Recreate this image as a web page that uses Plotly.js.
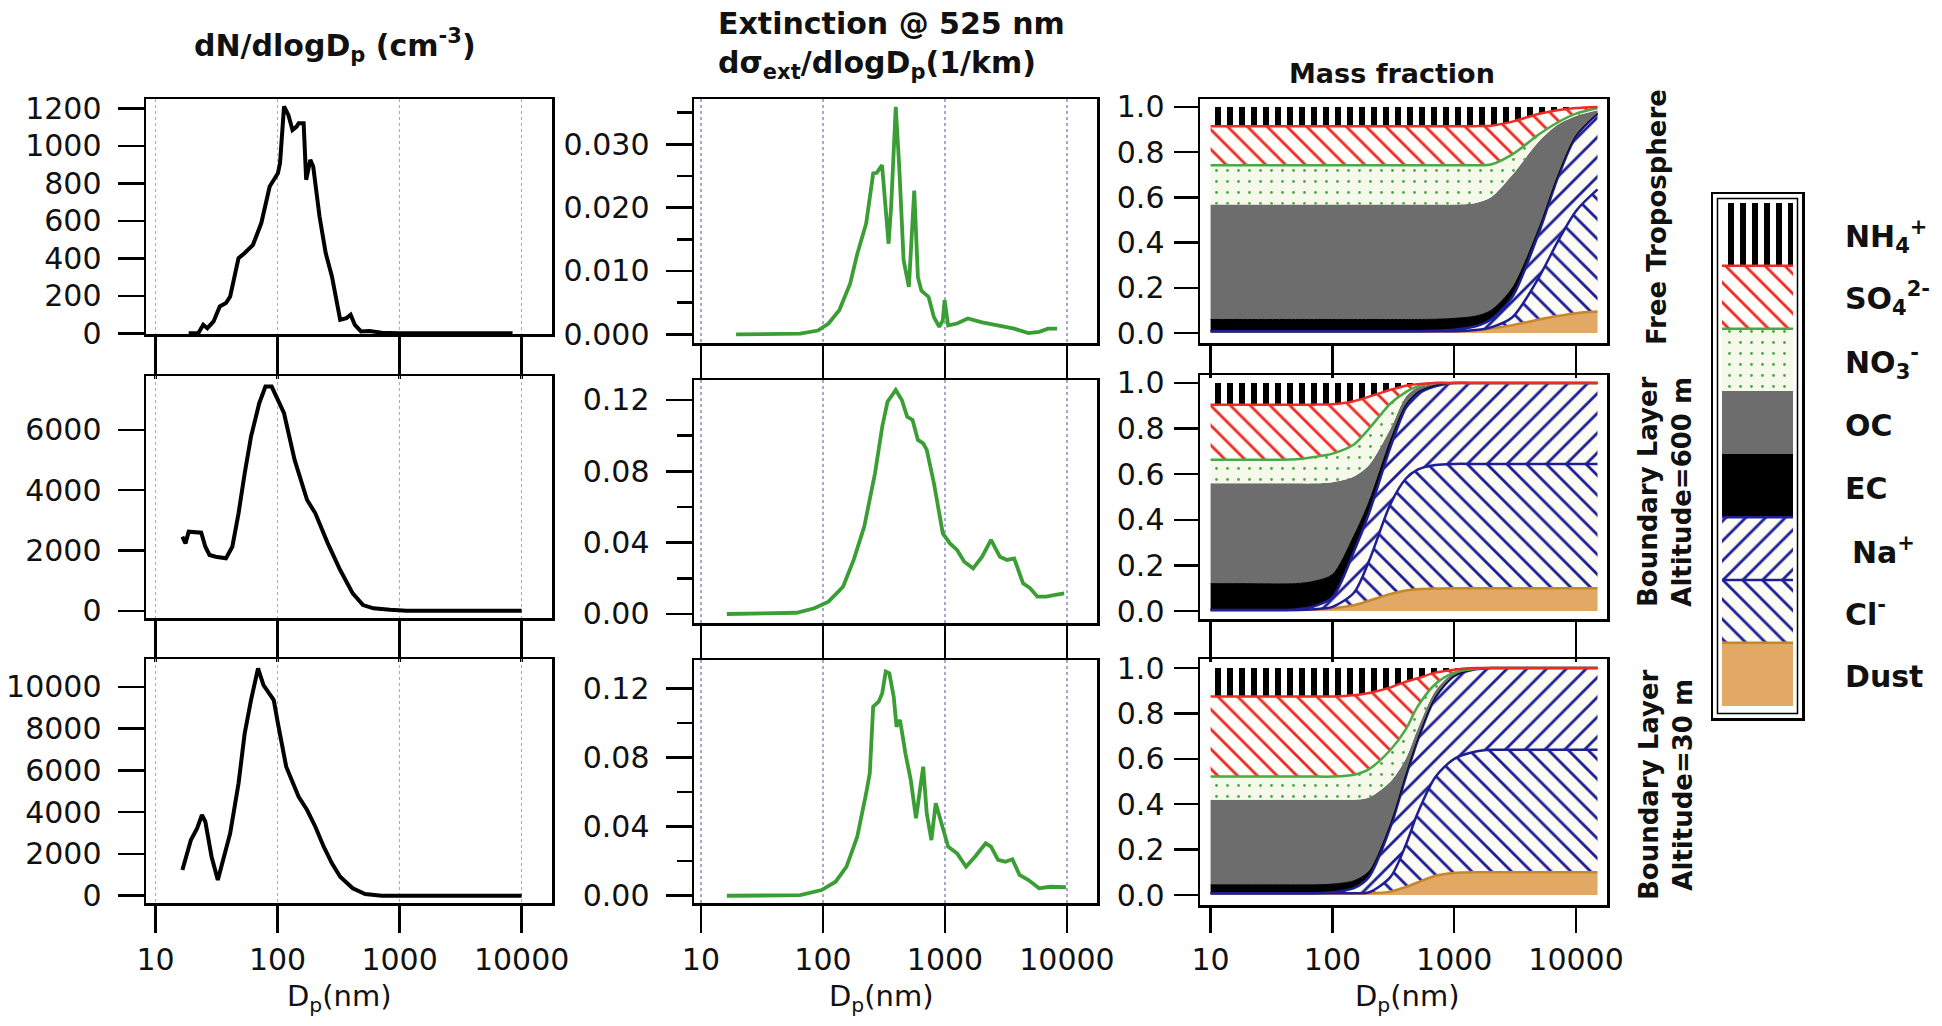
<!DOCTYPE html>
<html><head><meta charset="utf-8">
<script src="https://cdn.plot.ly/plotly-3.0.1.min.js"></script>
<style>html,body{margin:0;padding:0;background:#fff}#chart{width:1942px;height:1026px}</style>
</head><body><div id="chart"></div>
<script>
// ---------------- DATA ----------------
// Number size distributions dN/dlogDp (cm^-3)
const ft_dn_dp = [18.7,22.4,24.6,26.6,29.9,33.6,37.8,40.9,47.9,53.8,62.9,73.6,86.2,100.7,104.8,113,122.6,132.6,143.3,149,163.6,171.6,185.5,196,220.8,248,279,326,367,397,430,483,565,714,977,8430];
const ft_dn    = [0,0,45,27,63,143,161,196,401,428,472,588,783,854,908,1210,1165,1085,1103,1121,1121,819,925,890,623,428,303,72,81,99,45,10,12,3,0,0];
const bl600_dn_dp = [16.6,17.6,18.7,21.0,23.7,25.6,27.7,31.1,37.8,42.6,47.9,53.8,60.6,70.8,79.6,89.5,97,113,138,174.6,204,258,326,413,502,611,835,1143,10000];
const bl600_dn    = [2457,2237,2623,2623,2590,2125,1850,1793,1740,2125,3234,4562,5778,6887,7438,7438,7106,6555,5004,3676,3234,2237,1351,578,189,80,30,0,0];
const bl30_dn_dp = [16.6,19.5,21.9,24.0,25.6,28.8,32.4,36.4,40.9,47.9,53.8,60.6,69.2,76.7,86.2,93.1,100.7,117.8,127.3,149,174.6,204,239,279,326,413,522,714,10000];
const bl30_dn    = [1230,2665,3225,3861,3541,1866,751,1866,2986,5378,7770,9364,10880,10081,9603,9364,8249,6172,5694,4737,4100,3301,2344,1550,909,354,81,0,0];

// Extinction at 525 nm, dsigma_ext/dlogDp (1/km)
const ft_ext_dp = [19.4,65,91,111,136,167,191,226,258,276,305,327,345,362,395,422,458,506,560,600,641,734,812,898,960,993,1062,1256,1537,2015,2818,3690,4831,5910,6999,8285];
const ft_ext    = [0,0.0001,0.0006,0.0017,0.0038,0.008,0.0127,0.0175,0.0254,0.0255,0.0267,0.0201,0.0143,0.0201,0.0359,0.0264,0.0117,0.0075,0.0227,0.009,0.0069,0.0059,0.0027,0.0012,0.0022,0.0054,0.0014,0.0017,0.0025,0.0019,0.0014,0.0009,0.0002,0.0004,0.0009,0.0009];
const bl600_ext_dp = [16.3,60.7,85,111,146,178.5,218,267,306,338,395,443,490,542,600,663,709,812,960,1098,1257,1438,1702,2015,2383,2818,3227,3690,4365,5000,5716,6766,8011,9480];
const bl600_ext    = [0,0.0007,0.0032,0.0069,0.0153,0.0303,0.049,0.0789,0.105,0.119,0.1256,0.12,0.1106,0.1088,0.0976,0.0957,0.092,0.0733,0.0452,0.0396,0.0359,0.0293,0.0256,0.0321,0.0415,0.0321,0.0303,0.0312,0.0172,0.0144,0.0097,0.0097,0.0107,0.0116];
const bl30_ext_dp = [16.3,65,97.5,127,156,191,226,242,258,286,306,327,350,380,401,428,474,524,579,619,663,709,774,840,929,1062,1257,1488,1762,2155,2383,2723,3117,3570,4085,4831,5910,7244,9800];
const bl30_ext    = [0,0.0003,0.0033,0.0081,0.0168,0.0342,0.0593,0.0709,0.1094,0.1123,0.1172,0.1297,0.1287,0.1152,0.0978,0.1017,0.0824,0.067,0.0448,0.0593,0.0747,0.0477,0.0322,0.0535,0.0419,0.0284,0.0245,0.0168,0.0226,0.0303,0.0284,0.0207,0.0197,0.0211,0.012,0.0091,0.0043,0.0052,0.0049];

// Mass fraction: cumulative upper edge of each species (stacked from the bottom: Dust, Cl-, Na+, EC, OC, NO3-, SO4 2-, NH4+)
const mf_dp = [10,20,50,70,100,150,200,300,400,500,700,1000,1500,2000,3000,5000,7000,10000,15000];
const species = ['Dust','Cl','Na','EC','OC','NO3','SO4','NH4'];
const speciesLabels = ['Dust','Cl<sup>-</sup>','Na<sup>+</sup>','EC','OC','NO<sub>3</sub><sup>-</sup>','SO<sub>4</sub><sup>2-</sup>','NH<sub>4</sub><sup>+</sup>'];

const ft_Dust = [0.008,0.008,0.008,0.008,0.008,0.008,0.008,0.008,0.008,0.008,0.008,0.008,0.012,0.02,0.035,0.06,0.075,0.088,0.095];
const ft_Cl   = [0.008,0.008,0.008,0.008,0.008,0.008,0.008,0.008,0.008,0.008,0.008,0.008,0.013,0.025,0.07,0.25,0.4,0.54,0.635];
const ft_Na   = [0.008,0.008,0.008,0.008,0.008,0.008,0.008,0.008,0.008,0.008,0.01,0.015,0.03,0.06,0.16,0.45,0.68,0.87,0.97];
const ft_EC   = [0.06,0.06,0.06,0.06,0.06,0.06,0.06,0.06,0.06,0.06,0.061,0.065,0.075,0.1,0.2,0.47,0.69,0.875,0.972];
const ft_OC   = [0.568,0.568,0.568,0.568,0.568,0.568,0.568,0.568,0.568,0.568,0.568,0.568,0.575,0.6,0.7,0.85,0.92,0.96,0.985];
const ft_NO3  = [0.742,0.742,0.742,0.742,0.742,0.742,0.742,0.742,0.742,0.742,0.742,0.742,0.742,0.745,0.79,0.88,0.93,0.97,0.995];
const ft_SO4  = [0.915,0.915,0.915,0.915,0.915,0.915,0.915,0.915,0.915,0.915,0.915,0.915,0.915,0.917,0.935,0.97,0.985,0.995,1];
const ft_NH4  = [1,1,1,1,1,1,1,1,1,1,1,1,1,1,1,1,1,1,1];

const bl600_Dust = [0.005,0.005,0.005,0.007,0.012,0.025,0.045,0.075,0.09,0.096,0.099,0.1,0.1,0.1,0.1,0.1,0.1,0.1,0.1];
const bl600_Cl   = [0.005,0.005,0.005,0.008,0.018,0.08,0.22,0.47,0.58,0.62,0.64,0.645,0.645,0.645,0.645,0.645,0.645,0.645,0.645];
const bl600_Na   = [0.005,0.005,0.007,0.02,0.06,0.26,0.43,0.72,0.89,0.95,0.985,1,1,1,1,1,1,1,1];
const bl600_EC   = [0.12,0.12,0.12,0.13,0.16,0.33,0.48,0.75,0.905,0.96,0.99,1,1,1,1,1,1,1,1];
const bl600_OC   = [0.56,0.56,0.56,0.56,0.565,0.59,0.64,0.8,0.94,0.98,0.995,1,1,1,1,1,1,1,1];
const bl600_NO3  = [0.663,0.663,0.665,0.675,0.69,0.73,0.8,0.91,0.96,0.985,1,1,1,1,1,1,1,1,1];
const bl600_SO4  = [0.905,0.905,0.905,0.905,0.907,0.92,0.94,0.97,0.988,0.995,1,1,1,1,1,1,1,1,1];
const bl600_NH4  = [1,1,1,1,1,1,1,1,1,1,1,1,1,1,1,1,1,1,1];

const bl30_Dust = [0.008,0.008,0.008,0.008,0.008,0.008,0.008,0.015,0.035,0.055,0.085,0.097,0.1,0.1,0.1,0.1,0.1,0.1,0.1];
const bl30_Cl   = [0.008,0.008,0.008,0.008,0.008,0.008,0.012,0.08,0.22,0.36,0.52,0.6,0.632,0.64,0.64,0.64,0.64,0.64,0.64];
const bl30_Na   = [0.008,0.008,0.008,0.008,0.012,0.03,0.08,0.3,0.52,0.68,0.87,0.965,0.995,1,1,1,1,1,1];
const bl30_EC   = [0.045,0.045,0.045,0.045,0.048,0.063,0.105,0.315,0.53,0.686,0.873,0.966,0.995,1,1,1,1,1,1];
const bl30_OC   = [0.42,0.42,0.42,0.42,0.42,0.42,0.43,0.5,0.6,0.73,0.9,0.98,0.995,1,1,1,1,1,1];
const bl30_NO3  = [0.522,0.522,0.522,0.522,0.522,0.53,0.555,0.64,0.73,0.83,0.93,0.98,0.997,1,1,1,1,1,1];
const bl30_SO4  = [0.875,0.875,0.875,0.875,0.875,0.88,0.89,0.915,0.94,0.955,0.98,0.993,1,1,1,1,1,1,1];
const bl30_NH4  = [1,1,1,1,1,1,1,1,1,1,1,1,1,1,1,1,1,1,1];

const xTickVals = [10,100,1000,10000];
const xTickText = ['10','100','1000','10000'];
const rowLabels = ['Free Troposphere','Boundary Layer<br>Altitude=600 m','Boundary Layer<br>Altitude=30 m'];

// ---------------- STYLE / LAYOUT ----------------
const W = 1942, H = 1026;
const fx = p => p / W;
const fy = p => 1 - p / H;
const FONT = 'DejaVu Sans, Arial, sans-serif';
const NAVY = '#1e1e96', RED = '#ee2a24', GREEN = '#4aa845';

function hatch(shape, fg, bg, size, sol) {
  return {shape: shape, fgcolor: fg, bgcolor: bg, size: size, solidity: sol, fillmode: 'replace'};
}
const spStyle = {
  Dust: {fillcolor: '#e2a965', line: {color: '#c8862c', width: 2.5}},
  Cl:   {fillcolor: '#fdfcf4', fillpattern: hatch('\\', NAVY, '#fdfcf4', 14, 0.2), line: {color: NAVY, width: 2.5}},
  Na:   {fillcolor: '#fdfcf4', fillpattern: hatch('/', NAVY, '#fdfcf4', 14, 0.2), line: {color: NAVY, width: 2.5}},
  EC:   {fillcolor: '#000000', line: {color: '#000000', width: 1}},
  OC:   {fillcolor: '#6d6d6d', line: {color: '#6d6d6d', width: 0}},
  NO3:  {fillcolor: '#f5f9ea', fillpattern: hatch('.', '#4ea64a', '#f5f9ea', 11, 0.05), line: {color: GREEN, width: 2.5}},
  SO4:  {fillcolor: '#fffefa', fillpattern: hatch('\\', RED, '#fffefa', 14, 0.2), line: {color: RED, width: 2.5}},
  NH4:  {fillcolor: '#ffffff', fillpattern: hatch('|', '#000000', '#ffffff', 12, 0.5), line: {color: '#000000', width: 0}}
};

const cols = [
  {x: [146, 552], xr: [0.922, 4.249], rows: [[99, 334], [376, 618], [659, 903]], tl: [42, 41, 27], grid: true},
  {x: [694, 1097], xr: [0.943, 4.246], rows: [[99, 343], [380, 623], [660, 903]], tl: [37, 37, 27], grid: true},
  {x: [1200, 1607], xr: [0.913, 4.254], rows: [[99, 343], [375, 619], [659, 905]], tl: [32, 40, 25], grid: false}
];
const yCfg = [
  {range: [-4, 1250], dtick: 200, fmt: 'd', len: 26, sd: 10},
  {range: [-240, 7790], dtick: 2000, fmt: 'd', len: 26, sd: 10},
  {range: [-350, 11330], dtick: 2000, fmt: 'd', len: 26, sd: 10},
  {range: [-0.00137, 0.03715], dtick: 0.01, fmt: '.3f', len: 26, sd: 10, minor: 0.005},
  {range: [-0.00505, 0.1312], dtick: 0.04, fmt: '.2f', len: 26, sd: 10, minor: 0.02},
  {range: [-0.0042, 0.1364], dtick: 0.04, fmt: '.2f', len: 26, sd: 10, minor: 0.02},
  {range: [-0.044, 1.035], dtick: 0.2, fmt: '.1f', len: 24, sd: 3},
  {range: [-0.035, 1.035], dtick: 0.2, fmt: '.1f', len: 24, sd: 3},
  {range: [-0.044, 1.04], dtick: 0.2, fmt: '.1f', len: 24, sd: 3}
];

const layout = {
  width: W, height: H, margin: {l: 0, r: 0, t: 0, b: 0},
  paper_bgcolor: '#ffffff', plot_bgcolor: '#ffffff', showlegend: false,
  barmode: 'stack',
  font: {family: FONT, size: 30, color: '#111'},
  annotations: [], shapes: []
};

for (let c = 0; c < 3; c++) {
  const col = cols[c];
  for (let r = 0; r < 3; r++) {
    const k = c * 3 + r + 1;
    const xs = k === 1 ? 'xaxis' : 'xaxis' + k;
    const ys = k === 1 ? 'yaxis' : 'yaxis' + k;
    const yc = yCfg[k - 1];
    layout[xs] = {
      domain: [fx(col.x[0]), fx(col.x[1])], anchor: k === 1 ? 'y' : 'y' + k,
      type: 'log', range: col.xr, tickvals: xTickVals, ticktext: xTickText,
      showticklabels: r === 2, ticks: 'outside', ticklen: col.tl[r], tickwidth: 2.5, tickcolor: '#000',
      ticklabelstandoff: 1,
      showline: true, mirror: true, linecolor: '#000', linewidth: 2.5,
      showgrid: col.grid, gridcolor: '#a3a8d4', griddash: 'dot', gridwidth: 1.5,
      zeroline: false, fixedrange: true,
      tickfont: {family: FONT, size: 30, color: '#111'}
    };
    layout[ys] = {
      domain: [fy(col.rows[r][1]), fy(col.rows[r][0])], anchor: k === 1 ? 'x' : 'x' + k,
      range: yc.range, tick0: 0, dtick: yc.dtick, tickformat: yc.fmt,
      ticks: 'outside', ticklen: yc.len, tickwidth: 2.5, tickcolor: '#000',
      ticklabelstandoff: yc.sd,
      showline: true, mirror: true, linecolor: '#000', linewidth: 2.5,
      showgrid: false, zeroline: false, fixedrange: true,
      tickfont: {family: FONT, size: 30, color: '#111'}
    };
    if (yc.minor) {
      layout[ys].minor = {dtick: yc.minor, tick0: 0, ticks: 'outside', ticklen: 15, tickwidth: 2.5, tickcolor: '#000', showgrid: false};
    }
  }
  // x-axis title under bottom row
  const cx = [339, 881, 1407][c];
  layout.annotations.push({xref: 'paper', yref: 'paper', x: fx(cx), y: fy(998), xanchor: 'center', yanchor: 'middle',
    text: 'D<sub>p</sub>(nm)', showarrow: false, font: {family: FONT, size: 29, color: '#111'}});
}

// Column titles
layout.annotations.push({xref: 'paper', yref: 'paper', x: fx(335), y: fy(45), xanchor: 'center', yanchor: 'middle',
  text: '<b>dN/dlogD<sub>p</sub> (cm<sup>-3</sup>)</b>', showarrow: false, font: {family: FONT, size: 30, color: '#111'}});
layout.annotations.push({xref: 'paper', yref: 'paper', x: fx(716), y: fy(4), xanchor: 'left', yanchor: 'top', align: 'left',
  text: '<b>Extinction @ 525 nm<br>dσ<sub>ext</sub>/dlogD<sub>p</sub>(1/km)</b>', showarrow: false, font: {family: FONT, size: 30, color: '#111'}});
layout.annotations.push({xref: 'paper', yref: 'paper', x: fx(1392), y: fy(73), xanchor: 'center', yanchor: 'middle',
  text: '<b>Mass fraction</b>', showarrow: false, font: {family: FONT, size: 27, color: '#111'}});

// Row labels (rotated)
const rowLabelPos = [[1657, 217], [1665, 492], [1666, 785]];
rowLabels.forEach((t, i) => {
  layout.annotations.push({xref: 'paper', yref: 'paper', x: fx(rowLabelPos[i][0]), y: fy(rowLabelPos[i][1]),
    xanchor: 'center', yanchor: 'middle', textangle: -90, text: '<b>' + t + '</b>', showarrow: false,
    font: {family: FONT, size: 26, color: '#111'}});
});

// ---------------- TRACES ----------------
const traces = [];
function lineTrace(k, x, y, color, width) {
  traces.push({type: 'scatter', mode: 'lines', x: x, y: y, xaxis: k === 1 ? 'x' : 'x' + k, yaxis: k === 1 ? 'y' : 'y' + k,
    line: {color: color, width: width}, hoverinfo: 'skip'});
}
lineTrace(1, ft_dn_dp, ft_dn, '#000', 4);
lineTrace(2, bl600_dn_dp, bl600_dn, '#000', 4);
lineTrace(3, bl30_dn_dp, bl30_dn, '#000', 4);
lineTrace(4, ft_ext_dp, ft_ext, '#3a9e35', 3.8);
lineTrace(5, bl600_ext_dp, bl600_ext, '#3a9e35', 3.8);
lineTrace(6, bl30_ext_dp, bl30_ext, '#3a9e35', 3.8);

function stack(k, tops) {
  species.forEach((sp, i) => {
    const st = spStyle[sp];
    const t = {type: 'scatter', mode: 'lines', x: mf_dp, y: tops[i], xaxis: 'x' + k, yaxis: 'y' + k,
      fill: i === 0 ? 'tozeroy' : 'tonexty', fillcolor: st.fillcolor,
      line: {color: st.line.color, width: st.line.width, shape: 'spline', smoothing: 0.8}, hoverinfo: 'skip'};
    if (st.fillpattern) t.fillpattern = st.fillpattern;
    traces.push(t);
  });
}
stack(7, [ft_Dust, ft_Cl, ft_Na, ft_EC, ft_OC, ft_NO3, ft_SO4, ft_NH4]);
stack(8, [bl600_Dust, bl600_Cl, bl600_Na, bl600_EC, bl600_OC, bl600_NO3, bl600_SO4, bl600_NH4]);
stack(9, [bl30_Dust, bl30_Cl, bl30_Na, bl30_EC, bl30_OC, bl30_NO3, bl30_SO4, bl30_NH4]);

// ---------------- LEGEND (stacked swatch column) ----------------
layout.xaxis10 = {domain: [fx(1713), fx(1802)], anchor: 'y10', range: [-0.627, 0.627], showline: true, mirror: true,
  linecolor: '#000', linewidth: 2.5, showticklabels: false, ticks: '', showgrid: false, zeroline: false, fixedrange: true};
layout.yaxis10 = {domain: [fy(718), fy(194)], anchor: 'x10', range: [-0.197, 8.143], showline: true, mirror: true,
  linecolor: '#000', linewidth: 2.5, showticklabels: false, ticks: '', showgrid: false, zeroline: false, fixedrange: true};
species.forEach((sp, i) => {
  const st = spStyle[sp];
  const m = {color: st.fillcolor, line: {width: 0}};
  if (st.fillpattern) m.pattern = {shape: st.fillpattern.shape, fgcolor: st.fillpattern.fgcolor, bgcolor: st.fillpattern.bgcolor,
    size: st.fillpattern.size, solidity: st.fillpattern.solidity, fillmode: 'replace'};
  traces.push({type: 'bar', x: [0], y: [1], width: [1], xaxis: 'x10', yaxis: 'y10', marker: m, hoverinfo: 'skip'});
  if (st.line.width > 0 && sp !== 'EC') {
    layout.shapes.push({type: 'line', xref: 'x10', yref: 'y10', x0: -0.5, x1: 0.5, y0: i + 1, y1: i + 1,
      line: {color: st.line.color, width: 2.5}});
  }
});
layout.shapes.push({type: 'rect', xref: 'paper', yref: 'paper', x0: fx(1717.5), x1: fx(1797.5), y0: fy(713.5), y1: fy(198.5),
  line: {color: '#000', width: 1.5}});
const legendY = [676, 612, 550, 488, 425, 362, 298, 236];
species.forEach((sp, i) => {
  layout.annotations.push({xref: 'paper', yref: 'paper', x: fx(sp === 'Na' ? 1850 : 1843), y: fy(legendY[i]),
    xanchor: 'left', yanchor: 'middle', text: '<b>' + speciesLabels[i] + '</b>', showarrow: false,
    font: {family: FONT, size: 30, color: '#111'}});
});

Plotly.newPlot('chart', traces, layout, {staticPlot: true, displayModeBar: false});
</script></body></html>
